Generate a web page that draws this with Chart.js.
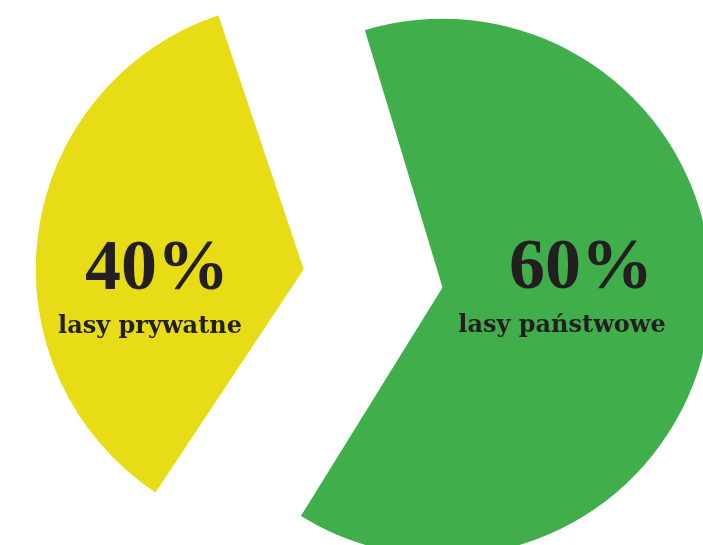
<!DOCTYPE html>
<html>
<head>
<meta charset="utf-8">
<script src="https://cdn.jsdelivr.net/npm/chart.js@4.4.1/dist/chart.umd.min.js"></script>
<style>
  html, body { margin: 0; padding: 0; background: #fff; }
  #wrap { width: 703px; height: 545px; overflow: hidden; }
</style>
</head>
<body>
<div id="wrap"><canvas id="forestChart" width="703" height="545"></canvas></div>
<script>
const categories = ['lasy prywatne', 'lasy państwowe'];
const percentLabels = ['40%', '60%'];
// slice sizes as they are drawn in the picture (printed labels say 40 / 60)
const sliceValues = [36, 64];
const sliceColors = ['#e8dc16', '#41ae4c'];

// exploded slices: yellow pulled far left, green a little to the right
const sliceOffsets = [453, 107];

const labelPlugin = {
  id: 'sliceLabels',
  afterDatasetsDraw(chart) {
    const ctx = chart.ctx;
    const spots = [
      { x: 157, y: 289, sx: 150, sy: 333 },
      { x: 581, y: 288, sx: 562, sy: 332 },
    ];
    ctx.save();
    ctx.fillStyle = '#231f20';
    ctx.textAlign = 'center';
    ctx.textBaseline = 'alphabetic';
    spots.forEach((p, i) => {
      ctx.font = 'bold 72px "Liberation Serif"';
      ctx.fillText(percentLabels[i], p.x, p.y);
      ctx.font = 'bold 24px "DejaVu Serif"';
      ctx.fillText(categories[i], p.sx, p.sy);
    });
    ctx.restore();
  }
};

new Chart(document.getElementById('forestChart'), {
  type: 'pie',
  data: {
    labels: categories,
    datasets: [{
      data: sliceValues,
      backgroundColor: sliceColors,
      borderWidth: 0,
      offset: sliceOffsets,
      hoverOffset: 0,
    }],
  },
  options: {
    responsive: false,
    animation: false,
    events: [],
    radius: 242,
    rotation: 212.7,
    layout: { padding: { left: 129, top: 23, right: 0, bottom: 0 } },
    plugins: { legend: { display: false }, tooltip: { enabled: false } },
  },
  plugins: [labelPlugin],
});
</script>
</body>
</html>
